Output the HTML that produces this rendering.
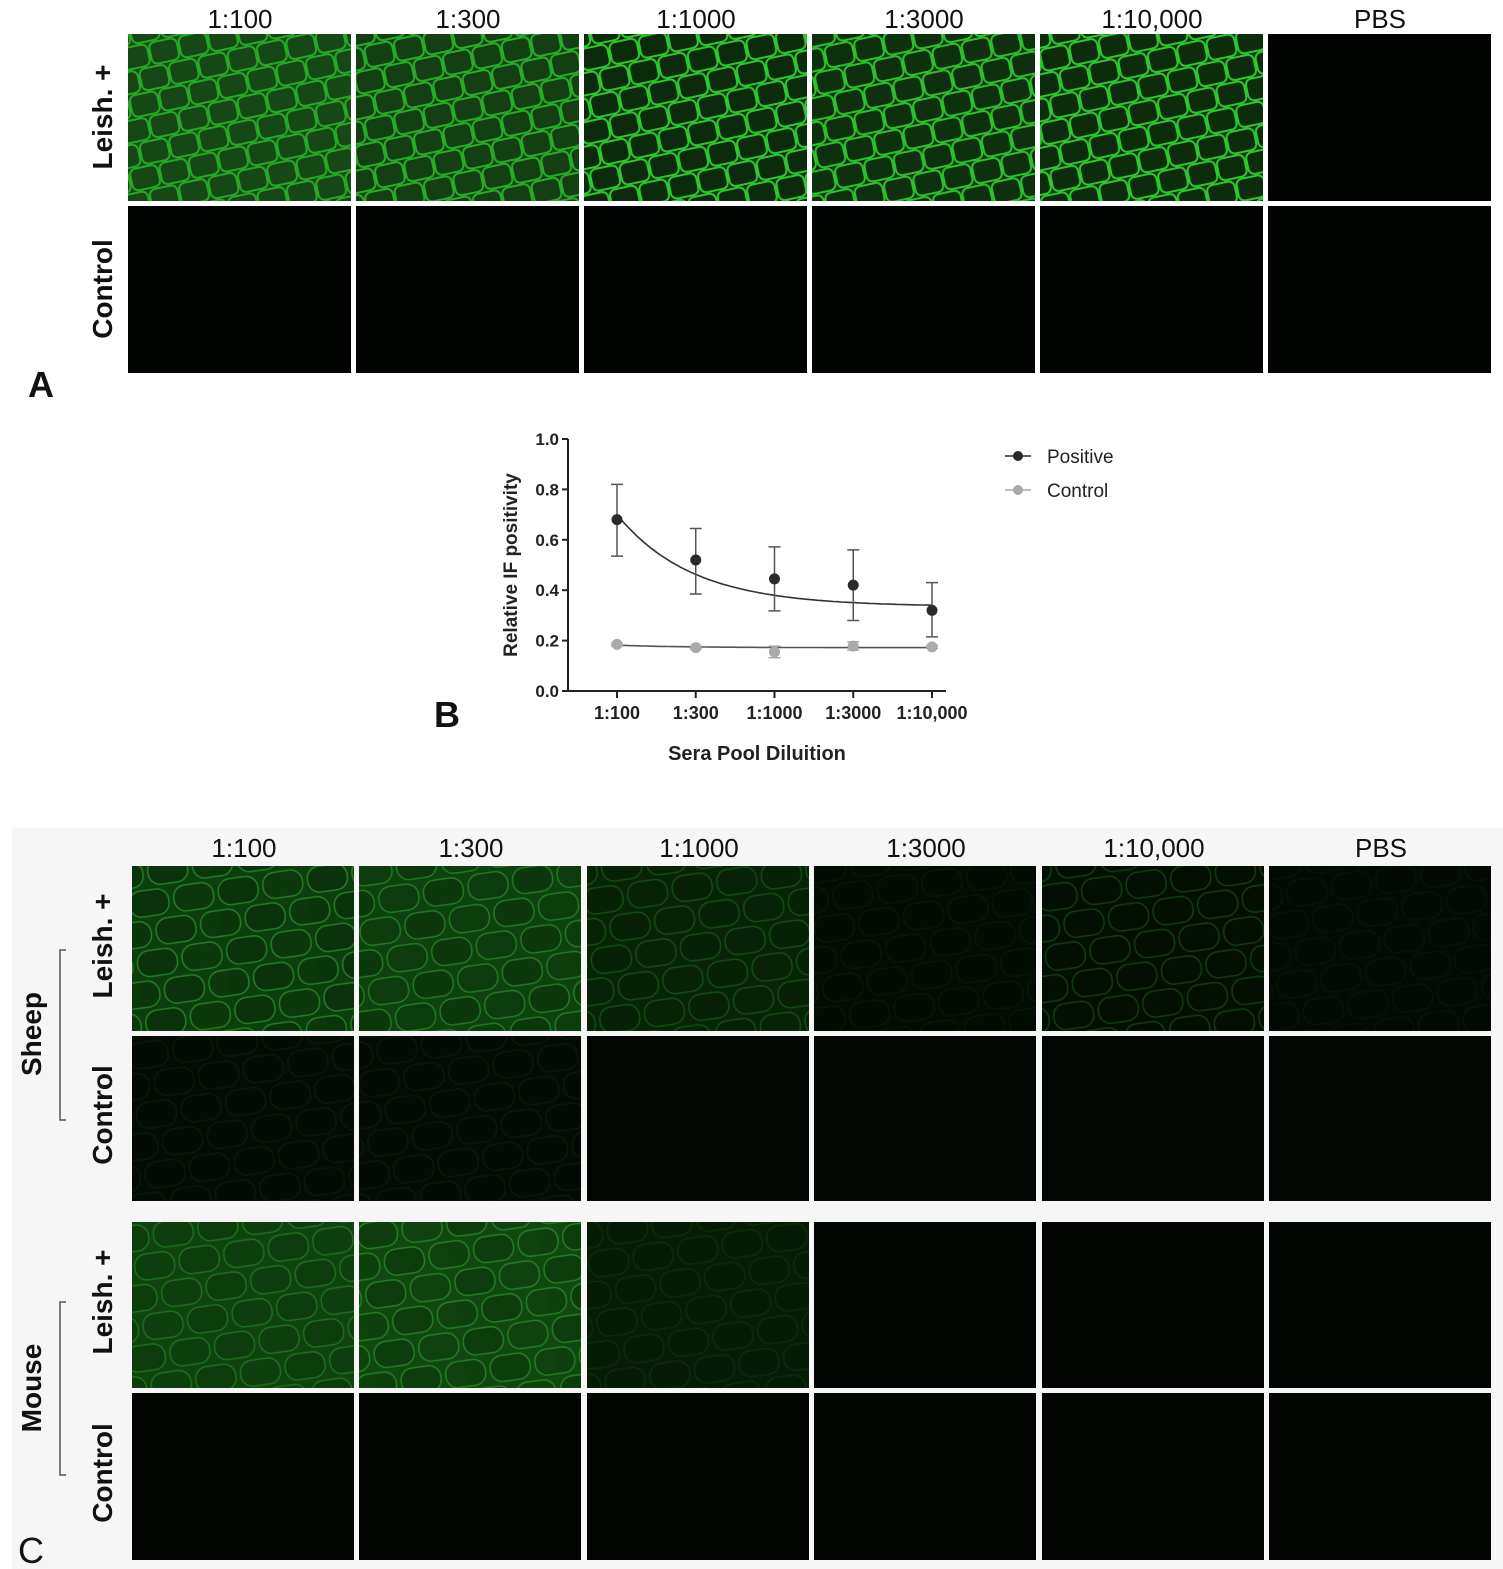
<!DOCTYPE html>
<html><head><meta charset="utf-8">
<style>
body{margin:0;background:#fff;font-family:"Liberation Sans",sans-serif;}
#root{position:relative;width:1503px;height:1569px;overflow:hidden;background:#fff;}
.hdr{position:absolute;font-size:26px;color:#111;text-align:center;width:224px;}
.rl{position:absolute;font-size:28px;font-weight:bold;color:#111;transform:rotate(-90deg);transform-origin:center;white-space:nowrap;text-align:center;width:170px;}
.big{position:absolute;font-size:36px;font-weight:bold;color:#111;}
</style></head>
<body>
<div id="root">
<div style="position:absolute;left:12px;top:828px;width:1491px;height:741px;background:#f6f6f6"></div>
<svg id="panels" width="1503" height="1569" style="position:absolute;left:0;top:0">
<defs>
<pattern id="cellsA" width="60" height="48" patternUnits="userSpaceOnUse" patternTransform="rotate(-12)">
<rect x="1" y="1" width="28" height="22" rx="6" fill="none" stroke="#2fd02f" stroke-width="2"/>
<rect x="31" y="1" width="28" height="22" rx="6" fill="none" stroke="#2fd02f" stroke-width="2"/>
<rect x="-14" y="25" width="28" height="22" rx="6" fill="none" stroke="#2fd02f" stroke-width="2"/>
<rect x="16" y="25" width="28" height="22" rx="6" fill="none" stroke="#2fd02f" stroke-width="2"/>
<rect x="46" y="25" width="28" height="22" rx="6" fill="none" stroke="#2fd02f" stroke-width="2"/>
</pattern>
<pattern id="cellsC" width="90" height="60" patternUnits="userSpaceOnUse" patternTransform="rotate(-8)">
<rect x="2" y="2" width="40" height="26" rx="12" fill="#000" fill-opacity="0.35" stroke="#35c035" stroke-width="1.5"/>
<rect x="47" y="2" width="40" height="26" rx="12" fill="#000" fill-opacity="0.2" stroke="#35c035" stroke-width="1.5"/>
<rect x="-20" y="32" width="40" height="26" rx="12" fill="#000" fill-opacity="0.25" stroke="#35c035" stroke-width="1.5"/>
<rect x="25" y="32" width="40" height="26" rx="12" fill="#000" fill-opacity="0.35" stroke="#35c035" stroke-width="1.5"/>
<rect x="70" y="32" width="40" height="26" rx="12" fill="#000" fill-opacity="0.2" stroke="#35c035" stroke-width="1.5"/>
</pattern>
</defs>
</svg>

<div class="big" style="left:28px;top:364px">A</div>
<div class="big" style="left:434px;top:694px">B</div>
<div class="big" style="left:18px;top:1530px;font-weight:normal">C</div>

<svg id="chart" width="1503" height="1569" style="position:absolute;left:0;top:0"></svg>
</div>

<script>
// ---- chart data ----
const categories = ["1:100","1:300","1:1000","1:3000","1:10,000"];
const positiveMean = [0.68, 0.52, 0.445, 0.42, 0.32];
const positiveHigh = [0.82, 0.645, 0.572, 0.56, 0.43];
const positiveLow  = [0.535, 0.385, 0.318, 0.28, 0.215];
const controlMean = [0.185, 0.172, 0.155, 0.178, 0.175];
const controlHigh = [0.19, 0.178, 0.178, 0.195, 0.18];
const controlLow  = [0.18, 0.166, 0.132, 0.162, 0.17];
const positiveFitParams = [0.70, 0.335, 1.05]; // start, plateau, decay per category step
const controlFitParams = [0.182, 0.172, 1.2];
const yTicks = [0.0, 0.2, 0.4, 0.6, 0.8, 1.0];

// ---- panel data (brightness per column) ----
const colLabels = ["1:100","1:300","1:1000","1:3000","1:10,000","PBS"];
const aLeishBase = ["#154815","#133f13","#0c2a0c","#0e300e","#0c2c0c","#020402"];
const aLeishEdge = [0.7,0.75,0.95,0.9,0.95,0];
const cSheepBase = ["#0d3e0d","#0e420e","#072407","#030c03","#041004","#030a03"];
const cSheepEdge = [0.5,0.45,0.25,0.06,0.25,0.05];
const cMouseBase = ["#0f440f","#104810","#061c06","#020602","#020502","#020602"];
const cMouseEdge = [0.35,0.45,0.1,0,0,0];

const NS="http://www.w3.org/2000/svg";
function mk(tag, attrs, parent){const e=document.createElementNS(NS,tag);for(const k in attrs)e.setAttribute(k,attrs[k]);parent.appendChild(e);return e;}

const P=document.getElementById('panels');
const root=document.getElementById('root');
function panel(x,y,w,h,base,edge,pat,name){
  const g=mk('g',{},P);
  
  
  mk('rect',{x:x,y:y,width:w,height:h,fill:base},g);
  if(edge>0){mk('rect',{x:x,y:y,width:w,height:h,fill:'url(#'+pat+')',opacity:edge},g);}
}
const aX=[128,356,584,812,1040,1268], aW=223;
const cX=[132,359,587,814,1042,1269], cW=222;
for(let i=0;i<6;i++){
  panel(aX[i],34,aW,167,aLeishBase[i],aLeishEdge[i],'cellsA','panel-a-leish-'+i);
  panel(aX[i],206,aW,167,'#020402',0,'cellsA','panel-a-control-'+i);
  panel(cX[i],866,cW,165,cSheepBase[i],cSheepEdge[i],'cellsC','panel-c-sheep-leish-'+i);
  panel(cX[i],1036,cW,165,i<2?'#040b04':'#030703',i<2?0.08:0,'cellsC','panel-c-sheep-control-'+i);
  panel(cX[i],1222,cW,166,cMouseBase[i],cMouseEdge[i],'cellsC','panel-c-mouse-leish-'+i);
  panel(cX[i],1393,cW,167,'#020502',0,'cellsC','panel-c-mouse-control-'+i);
}
function div(cls,text,style,name){const d=document.createElement('div');d.className=cls;d.textContent=text;d.style.cssText=style;
  
  
  root.appendChild(d);return d;}
for(let i=0;i<6;i++){
  div('hdr',colLabels[i],'left:'+aX[i]+'px;top:4px','column-header-a-'+i);
  div('hdr',colLabels[i],'left:'+cX[i]+'px;top:833px','column-header-c-'+i);
}
function rowLabel(text,cx,cy,name){div('rl',text,'left:'+(cx-85)+'px;top:'+(cy-17)+'px;',name);}
rowLabel('Leish. +',103,118,'row-label-a-leish');
rowLabel('Control',103,290,'row-label-a-control');
rowLabel('Leish. +',103,947,'row-label-sheep-leish');
rowLabel('Control',103,1116,'row-label-sheep-control');
rowLabel('Leish. +',103,1303,'row-label-mouse-leish');
rowLabel('Control',103,1474,'row-label-mouse-control');
rowLabel('Sheep',32,1035,'group-label-sheep');
rowLabel('Mouse',32,1389,'group-label-mouse');
[[950,1120,'sheep-bracket'],[1302,1475,'mouse-bracket']].forEach(b=>{
  const p=mk('path',{d:'M66 '+b[0]+' H60 V'+b[1]+' H66',fill:'none',stroke:'#555','stroke-width':1.5},P);
  
  
});

// ---- chart ----
const C=document.getElementById('chart');
const X0=568, XEND=946, Y0=691, Y1=439;
function xs(i){return X0+49+i*((932-617)/4);}
function xf(t){return X0+49+t*((932-617)/4);}
function ys(v){return Y0-(Y0-Y1)*v;}
let e;
e=mk('line',{x1:X0,y1:Y1,x2:X0,y2:Y0,stroke:'#222','stroke-width':2},C);


e=mk('line',{x1:X0,y1:Y0,x2:XEND,y2:Y0,stroke:'#222','stroke-width':2},C);


yTicks.forEach(v=>{
  mk('line',{x1:X0-6,y1:ys(v),x2:X0,y2:ys(v),stroke:'#222','stroke-width':2},C);
  const t=mk('text',{x:X0-9,y:ys(v)+6,'text-anchor':'end','font-size':17,'font-weight':'bold',fill:'#222','font-family':'Liberation Sans'},C);
  t.textContent=v.toFixed(1);
  
  
});
categories.forEach((c,i)=>{
  mk('line',{x1:xs(i),y1:Y0,x2:xs(i),y2:Y0+7,stroke:'#222','stroke-width':2},C);
  const t=mk('text',{x:xs(i),y:Y0+28,'text-anchor':'middle','font-size':18,'font-weight':'bold',fill:'#222','font-family':'Liberation Sans'},C);
  t.textContent=c;
  
  
});
e=mk('text',{x:757,y:760,'text-anchor':'middle','font-size':20,'font-weight':'bold',fill:'#222','font-family':'Liberation Sans'},C);
e.textContent='Sera Pool Diluition';


e=mk('text',{x:0,y:0,'text-anchor':'middle','font-size':19,'font-weight':'bold',fill:'#222','font-family':'Liberation Sans',transform:'translate(517,565) rotate(-90)'},C);
e.textContent='Relative IF positivity';



function fitPath(p){let d='';for(let k=0;k<=80;k++){const t=k/20;const v=p[1]+(p[0]-p[1])*Math.exp(-p[2]*t);d+=(k?'L':'M')+xf(t).toFixed(1)+' '+ys(v).toFixed(1);}return d;}
function series(mean,hi,lo,fit,color,name){
  const p=mk('path',{d:fitPath(fit),fill:'none',stroke:name==='positive'?'#333':'#555','stroke-width':1.6},C);
  
  
  mean.forEach((v,i)=>{
    const x=xs(i);
    const eb=mk('path',{d:'M'+(x-6)+' '+ys(hi[i])+'H'+(x+6)+'M'+x+' '+ys(hi[i])+'V'+ys(lo[i])+'M'+(x-6)+' '+ys(lo[i])+'H'+(x+6),stroke:name==='positive'?'#555':color,'stroke-width':1.5,fill:'none'},C);
    
    
    const c=mk('circle',{cx:x,cy:ys(v),r:5.5,fill:color},C);
    
    
  });
}
series(positiveMean,positiveHigh,positiveLow,positiveFitParams,'#2a2a2a','positive');
series(controlMean,controlHigh,controlLow,controlFitParams,'#aaaaaa','control');
[['Positive','#2a2a2a',456],['Control','#aaaaaa',490]].forEach((l)=>{
  const g=mk('g',{},C);
  
  
  mk('line',{x1:1005,y1:l[2],x2:1031,y2:l[2],stroke:l[1],'stroke-width':1.6},g);
  mk('circle',{cx:1018,cy:l[2],r:5,fill:l[1]},g);
  const t=mk('text',{x:1047,y:l[2]+7,'font-size':19,fill:'#222','font-family':'Liberation Sans'},g);
  t.textContent=l[0];
});
</script>
</body></html>
